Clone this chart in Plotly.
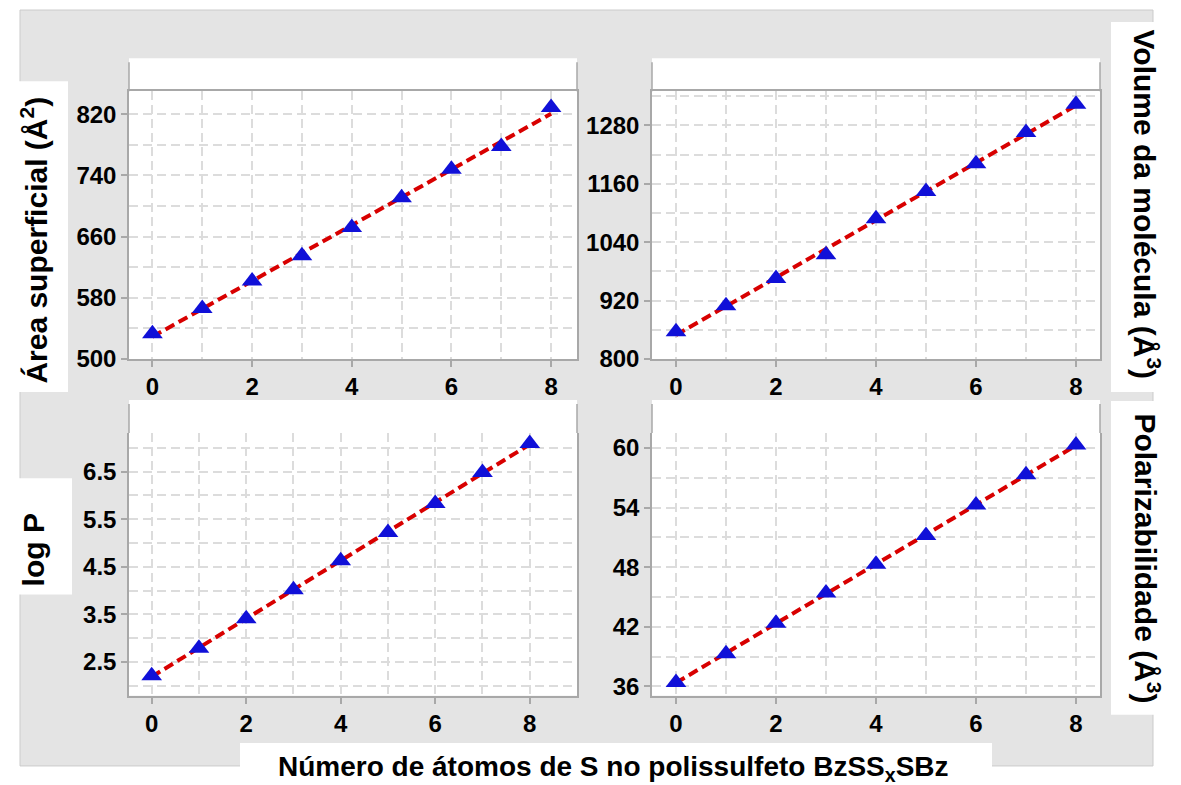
import numpy as np
import plotly.graph_objects as go

W, H = 1181, 785
FIG_H = 800

# Number of S atoms in the polysulfide chain
n_s = [0, 1, 2, 3, 4, 5, 6, 7, 8]

# Molecular descriptors for each chain length
area = [533, 566, 602, 635, 672, 711, 748, 778, 829]              # Å²
volume = [856, 909, 965, 1014, 1088, 1144, 1201, 1265, 1323]      # Å³
log_p = [2.21, 2.79, 3.41, 4.02, 4.63, 5.22, 5.83, 6.48, 7.09]
polariz = [36.4, 39.3, 42.35, 45.4, 48.3, 51.2, 54.25, 57.3, 60.3]  # Å³

x_ticks = [0, 2, 4, 6, 8]

FONT = "Liberation Sans, Arial, sans-serif"
GRID = "#dcdcdc"
AXIS = "#a8a8a8"
BG = "#e4e4e4"
BLUE = "#1010d8"
RED = "#d80000"


def fx(px):
    return px / W


def fy(py):
    return 1 - py / H


# panel geometry in pixels: (left, right, axes top, axes bottom, white top)
panels = [
    dict(l=129, r=577, t=91, b=358, wt=58, data=area,
         yr=[500, 850.2], dt=80, t0=500, mdt=40, xr=[-0.47, 8.52]),
    dict(l=652, r=1100, t=91, b=358, wt=58, data=volume,
         yr=[800, 1350], dt=120, t0=800, mdt=60, xr=[-0.48, 8.48]),
    dict(l=129, r=577, t=432, b=694, wt=399, data=log_p,
         yr=[1.79, 7.31], dt=1, t0=2.5, mdt=0.5, xr=[-0.48, 9.0]),
    dict(l=652, r=1100, t=432, b=694, wt=399, data=polariz,
         yr=[35.06, 61.5], dt=6, t0=0, mdt=3, xr=[-0.48, 8.48]),
]

fig = go.Figure()
shapes = []

# gray canvas
shapes.append(dict(type="rect", xref="paper", yref="paper",
                   x0=fx(20), x1=fx(1153), y0=fy(764), y1=fy(10),
                   fillcolor=BG, line=dict(color="#cbcbcb", width=1),
                   layer="below"))

# white label boxes
for (x0, x1, y0, y1) in [(8, 68, 81, 391), (8, 72, 477, 593),
                         (1111, 1170, 22, 391), (1111, 1170, 400, 713),
                         (240, 992, 741, 790)]:
    shapes.append(dict(type="rect", xref="paper", yref="paper",
                       x0=fx(x0), x1=fx(x1), y0=fy(y1), y1=fy(y0),
                       fillcolor="white", line=dict(width=0), layer="below"))

tick_font = dict(family=FONT, size=24, color="black", weight="bold")

for i, p in enumerate(panels, start=1):
    xa = "x" if i == 1 else f"x{i}"
    ya = "y" if i == 1 else f"y{i}"

    # white panel background including the strip above the axes
    shapes.append(dict(type="rect", xref="paper", yref="paper",
                       x0=fx(p["l"]), x1=fx(p["r"]), y0=fy(p["b"]), y1=fy(p["wt"]),
                       fillcolor="white", line=dict(width=0), layer="below"))
    # side borders continuing above the axes
    for xx in (p["l"], p["r"]):
        shapes.append(dict(type="line", xref="paper", yref="paper",
                           x0=fx(xx), x1=fx(xx), y0=fy(p["t"]), y1=fy(p["wt"] + 4),
                           line=dict(color=AXIS, width=1.5), layer="below"))

    x_arr = np.array(n_s, dtype=float)
    y_arr = np.array(p["data"], dtype=float)
    slope, icpt = np.polyfit(x_arr, y_arr, 1)
    fit_x = [n_s[0], n_s[-1]]
    fit_y = [icpt + slope * v for v in fit_x]

    fig.add_trace(go.Scatter(x=fit_x, y=fit_y, mode="lines", xaxis=xa, yaxis=ya,
                             line=dict(color=RED, width=4, dash="10px,5px"),
                             showlegend=False, hoverinfo="skip"))
    fig.add_trace(go.Scatter(x=n_s, y=p["data"], mode="markers", xaxis=xa, yaxis=ya,
                             marker=dict(symbol="triangle-up", size=18, color=BLUE,
                                         line=dict(width=0)),
                             showlegend=False))

    top_line = i <= 2
    xkey = "xaxis" if i == 1 else f"xaxis{i}"
    ykey = "yaxis" if i == 1 else f"yaxis{i}"
    fig.update_layout({
        xkey: dict(domain=[fx(p["l"]), fx(p["r"])], anchor=ya, range=p["xr"],
                   tickmode="array", tickvals=x_ticks, ticktext=[str(v) for v in x_ticks],
                   ticks="outside", ticklen=6, tickwidth=1.5, tickcolor=AXIS,
                   tickfont=tick_font, showline=True, linecolor=AXIS, linewidth=1.5,
                   mirror=top_line, zeroline=False,
                   showgrid=True, gridcolor=GRID, gridwidth=2, griddash="9px,5px",
                   minor=dict(tickmode="array", tickvals=n_s, showgrid=True,
                              gridcolor=GRID, gridwidth=2, griddash="9px,5px",
                              ticks=""),
                   fixedrange=True),
        ykey: dict(domain=[fy(p["b"]), fy(p["t"])], anchor=xa, range=p["yr"],
                   tick0=p["t0"], dtick=p["dt"],
                   ticks="outside", ticklen=6, tickwidth=1.5, tickcolor=AXIS,
                   tickfont=tick_font, showline=True, linecolor=AXIS, linewidth=1.5,
                   mirror=True, zeroline=False,
                   showgrid=True, gridcolor=GRID, gridwidth=2, griddash="9px,5px",
                   minor=dict(dtick=p["mdt"], tick0=p["t0"], showgrid=True,
                              gridcolor=GRID, gridwidth=2, griddash="9px,5px",
                              ticks=""),
                   fixedrange=True),
    })

title_font = dict(family=FONT, size=30, color="black", weight="bold")
annotations = [
    dict(text="Área superficial (Å<sup>2</sup>)", x=fx(34), y=fy(240), textangle=-90),
    dict(text="log P", x=fx(33), y=fy(549), textangle=-90),
    dict(text="Volume da molécula (Å<sup>3</sup>)", x=fx(1147), y=fy(204), textangle=90),
    dict(text="Polarizabilidade (Å<sup>3</sup>)", x=fx(1147), y=fy(557), textangle=90),
    dict(text="Número de átomos de S no polissulfeto BzSS<sub>x</sub>SBz",
         x=fx(613), y=fy(767), textangle=0, font=dict(size=28)),
]
for a in annotations:
    f = dict(title_font)
    f.update(a.pop("font", {}))
    a.update(xref="paper", yref="paper", xanchor="center", yanchor="middle",
             showarrow=False, font=f)

fig.update_layout(
    width=W, height=FIG_H,
    autosize=False,
    margin=dict(l=0, r=0, t=0, b=0),
    paper_bgcolor="white",
    plot_bgcolor="rgba(0,0,0,0)",
    shapes=shapes,
    annotations=annotations,
    showlegend=False,
)

page_css = ("document.body.style.margin='0';"
            "document.body.style.overflow='hidden';")

fig.write_html("out.html", config={"responsive": False}, post_script=page_css)
